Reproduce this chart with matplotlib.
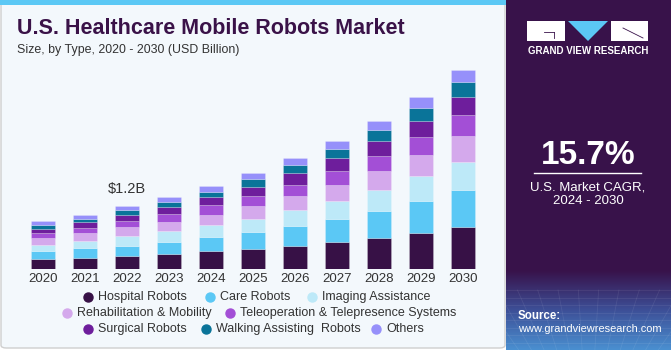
import matplotlib
matplotlib.use("Agg")
import matplotlib.pyplot as plt
import numpy as np
from matplotlib.patches import Rectangle, Polygon, FancyBboxPatch
from matplotlib.lines import Line2D
from matplotlib.colors import LinearSegmentedColormap

plt.rcParams['font.family'] = ['Liberation Sans', 'DejaVu Sans']

# ---------------- data ----------------
years = ["2020", "2021", "2022", "2023", "2024", "2025", "2026", "2027", "2028", "2029", "2030"]
types = ["Hospital Robots", "Care Robots", "Imaging Assistance", "Rehabilitation & Mobility",
         "Teleoperation & Telepresence Systems", "Surgical Robots", "Walking Assisting  Robots", "Others"]
hospital = [0.189, 0.215, 0.246, 0.284, 0.335, 0.379, 0.442, 0.518, 0.581, 0.682, 0.796]
care = [0.145, 0.177, 0.196, 0.227, 0.265, 0.322, 0.373, 0.436, 0.518, 0.613, 0.707]
imaging = [0.126, 0.145, 0.183, 0.215, 0.240, 0.253, 0.309, 0.341, 0.404, 0.467, 0.531]
rehab = [0.126, 0.139, 0.164, 0.164, 0.189, 0.240, 0.259, 0.303, 0.360, 0.404, 0.493]
tele = [0.088, 0.107, 0.114, 0.158, 0.189, 0.196, 0.215, 0.265, 0.284, 0.341, 0.398]
surgical = [0.088, 0.101, 0.114, 0.120, 0.139, 0.171, 0.215, 0.234, 0.272, 0.291, 0.341]
walking = [0.063, 0.069, 0.095, 0.101, 0.107, 0.139, 0.152, 0.171, 0.208, 0.253, 0.284]
others = [0.082, 0.076, 0.088, 0.101, 0.101, 0.120, 0.139, 0.158, 0.177, 0.208, 0.227]
series = [hospital, care, imaging, rehab, tele, surgical, walking, others]
colors = ["#371146", "#5BC8F5", "#BDE9F8", "#D4A9EC", "#A34FD6", "#6E1E9C", "#0A7499", "#9690FA"]
annot_year = "2022"
annot_text = "$1.2B"
cagr_text = "15.7%"

W, H = 671, 350
fig = plt.figure(figsize=(W / 100, H / 100), dpi=100)
fig.patch.set_facecolor("white")

def fx(px):
    return px / W

def fy(py):
    return 1 - py / H

# left panel
fig.add_artist(FancyBboxPatch((fx(1), fy(348)), fx(504), (346) / H,
                              boxstyle="round,pad=0,rounding_size=0.008",
                              transform=fig.transFigure, facecolor="#F3F8FC",
                              edgecolor="#CFCFCF", linewidth=1.0, zorder=0))
fig.add_artist(Rectangle((0, fy(5)), fx(506), 5 / H, transform=fig.transFigure,
                         facecolor="#5BC8F5", edgecolor="none", zorder=1))

# right panel
fig.add_artist(Rectangle((fx(506), 0), fx(W - 506), 1, transform=fig.transFigure,
                         facecolor="#38124A", edgecolor="none", zorder=1))
gax = fig.add_axes([fx(506), 0, fx(W - 506), 80 / H], zorder=2)
grad = np.linspace(0, 1, 100)[:, None] * np.ones((1, 10))
cmap = LinearSegmentedColormap.from_list("g", ["#4a8fd0", "#3d4f97", "#38124A"])
gax.imshow(grad, aspect="auto", cmap=cmap, origin="lower", extent=[0, 1, 0, 1])
gax.set_xlim(0, 1)
gax.set_ylim(0, 1)
for i in np.linspace(0, 1, 14):
    gax.plot([i, 0.5 + (i - 0.5) * 1.6], [0, 0.75], color="white", alpha=0.08, lw=0.6)
for j in np.linspace(0, 0.75, 9):
    gax.plot([0, 1], [j, j], color="white", alpha=0.08, lw=0.6)
gax.axis("off")

# logo
lax = fig.add_axes([fx(527), fy(41), fx(121), 20 / H], zorder=3)
lax.set_xlim(0, 121)
lax.set_ylim(0, 20)
lax.add_patch(Rectangle((0, 0), 38, 20, facecolor="white", edgecolor="none"))
lax.plot([17, 27], [9, 9], color="#38124A", lw=0.6)
lax.plot([27, 27], [9, 3], color="#38124A", lw=0.6)
lax.add_patch(Polygon([[41, 20], [81, 20], [61, 0]], facecolor="#5BC8F5", edgecolor="none"))
lax.add_patch(Rectangle((84, 0), 37, 20, facecolor="white", edgecolor="none"))
lax.plot([96, 116], [13, 3], color="#38124A", lw=0.6)
lax.axis("off")
fig.text(fx(588), fy(51), "GRAND VIEW RESEARCH", color="white", fontsize=7,
         fontweight="bold", ha="center", va="center", zorder=3)

fig.text(fx(588), fy(156), cagr_text, color="white", fontsize=24, fontweight="bold",
         ha="center", va="center", zorder=3)
fig.add_artist(Line2D([fx(534), fx(641)], [fy(173), fy(173)], color="white", lw=1,
                      transform=fig.transFigure, zorder=3))
fig.text(fx(588), fy(188), "U.S. Market CAGR,", color="white", fontsize=9.5,
         ha="center", va="center", zorder=3)
fig.text(fx(588), fy(201), "2024 - 2030", color="white", fontsize=9.5,
         ha="center", va="center", zorder=3)
fig.text(fx(518), fy(316), "Source:", color="white", fontsize=8.3, fontweight="bold",
         ha="left", va="center", zorder=3)
fig.text(fx(518), fy(329), "www.grandviewresearch.com", color="white", fontsize=7.9,
         ha="left", va="center", zorder=3)

# titles
fig.text(fx(17), fy(29), "U.S. Healthcare Mobile Robots Market", color="#3A1248",
         fontsize=15.5, fontweight="heavy", ha="left", va="center", zorder=3)
fig.text(fx(17), fy(50), "Size, by Type, 2020 - 2030 (USD Billion)", color="#333333",
         fontsize=8.9, ha="left", va="center", zorder=3)

# chart
ax = fig.add_axes([fx(22), fy(269), fx(462), 237 / H], zorder=2)
ax.patch.set_alpha(0)
x = np.arange(len(years))
bottom = np.zeros(len(years))
for vals, col, lab in zip(series, colors, types):
    ax.bar(x, vals, width=0.57, bottom=bottom, color=col, label=lab,
           edgecolor=(1, 1, 1, 0.35), linewidth=0.4)
    bottom += np.array(vals)
ax.set_xlim(-0.5, len(years) - 0.5)
ax.set_ylim(0, 4.49)
ax.set_xticks(x)
ax.set_xticklabels(years, fontsize=9.5, color="#333333")
ax.tick_params(axis="x", length=0, pad=3)
ax.set_yticks([])
for s in ax.spines.values():
    s.set_visible(False)
ai = years.index(annot_year)
ax.annotate(annot_text, (x[ai], bottom[ai]), xytext=(0, 7), textcoords="offset points",
            ha="center", va="bottom", fontsize=10.5, color="#333333")

# legend
layout = [(88, 297), (210, 297), (312, 297),
          (67, 313), (230, 313),
          (88, 329), (206, 329), (376, 329)]
for (px, py), lab, col in zip(layout, types, colors):
    fig.add_artist(Line2D([fx(px)], [fy(py)], marker="o", markersize=6.5, color=col,
                          linestyle="none", transform=fig.transFigure, zorder=3))
    fig.text(fx(px + 10), fy(py), lab, fontsize=9, color="#333333", ha="left",
             va="center", zorder=3)

fig.savefig("out.png", dpi=100)
